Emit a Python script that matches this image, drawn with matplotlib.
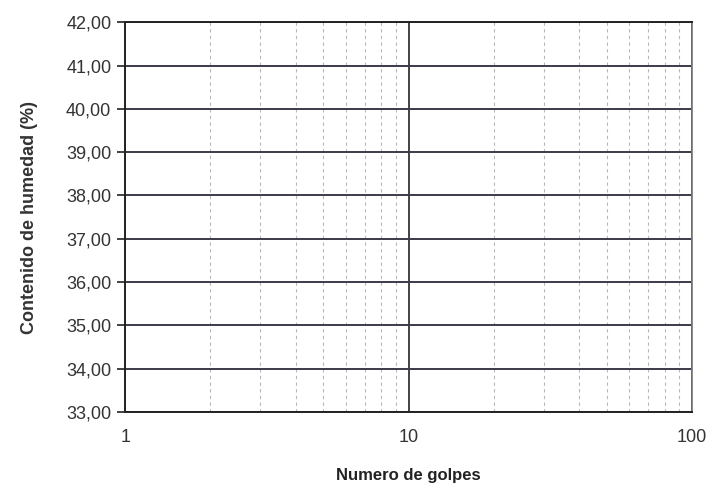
import matplotlib
matplotlib.use("Agg")
import matplotlib.pyplot as plt
from matplotlib.ticker import FixedLocator, LogLocator, NullFormatter

plt.rcParams['font.family'] = ['Liberation Sans', 'DejaVu Sans']

# Axis data (no series plotted in the original)
x_ticks = [1, 10, 100]
x_tick_labels = ['1', '10', '100']
y_ticks = [33, 34, 35, 36, 37, 38, 39, 40, 41, 42]
y_tick_labels = ['%d,00' % v for v in y_ticks]
x_label = 'Numero de golpes'
y_label = 'Contenido de humedad (%)'

fig = plt.figure(figsize=(7.07, 4.83), dpi=100)
ax = fig.add_axes([0.177, 0.147, 0.802, 0.807])

ax.set_xscale('log')
ax.set_xlim(x_ticks[0], x_ticks[-1])
ax.set_ylim(y_ticks[0], y_ticks[-1])

ax.xaxis.set_major_locator(FixedLocator(x_ticks))
ax.set_xticklabels(x_tick_labels)
ax.xaxis.set_minor_locator(LogLocator(base=10, subs=range(2, 10)))
ax.xaxis.set_minor_formatter(NullFormatter())
ax.set_yticks(y_ticks)
ax.set_yticklabels(y_tick_labels)

# grid: dark horizontal lines, dashed light verticals
ax.yaxis.grid(True, which='major', color='#3a3a4a', linewidth=1.4)
ax.xaxis.grid(True, which='major', color='#222222', linewidth=1.2)
ax.xaxis.grid(True, which='minor', color='#b8b8b8', linewidth=0.8, linestyle=(0, (3, 3)))
ax.set_axisbelow(True)

for s in ['left', 'bottom', 'top']:
    ax.spines[s].set_color('#222222')
    ax.spines[s].set_linewidth(1.4)
ax.spines['right'].set_color('#777777')
ax.spines['right'].set_linewidth(1.2)

ax.tick_params(axis='y', which='major', length=6, width=1.2, color='#222222',
               labelsize=13, labelcolor='#333333', pad=4)
ax.tick_params(axis='x', which='both', length=0, labelsize=13,
               labelcolor='#333333', pad=12)

ax.set_xlabel(x_label, fontsize=12, fontweight='bold', color='#222222', labelpad=16)
ax.set_ylabel(y_label, fontsize=13, fontweight='bold', color='#333333', labelpad=20)

fig.savefig('out.png', dpi=100, facecolor='white')
